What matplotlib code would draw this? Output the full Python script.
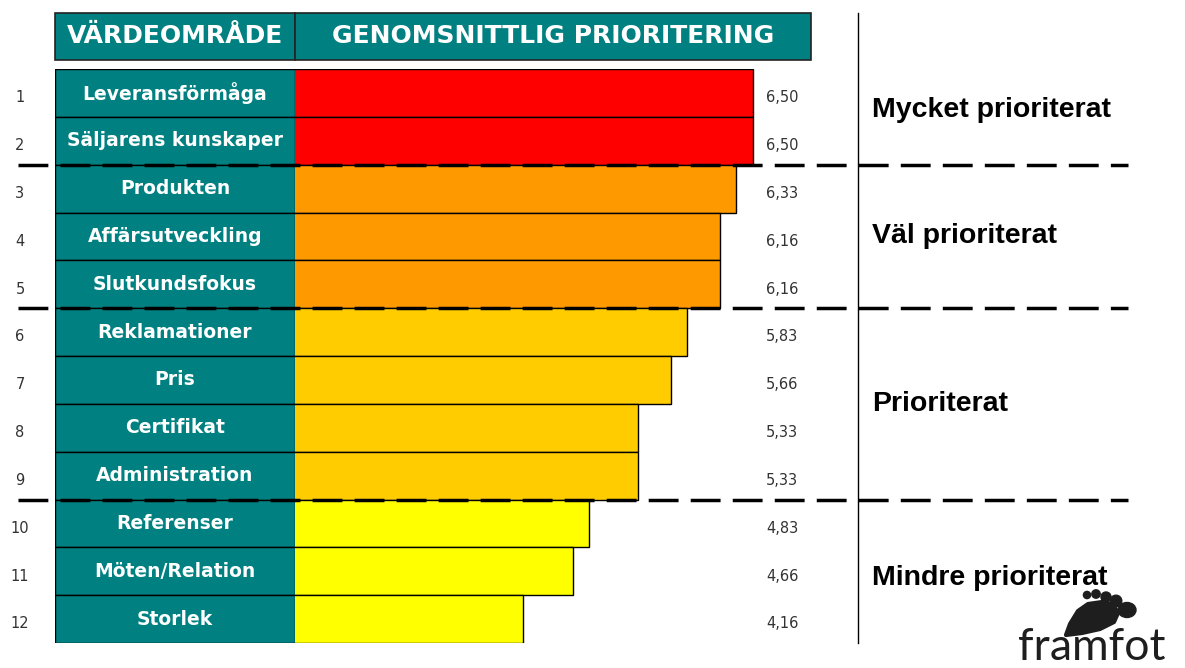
import numpy as np
import matplotlib.pyplot as plt
from matplotlib.patches import Rectangle, Circle, Ellipse, Polygon
from matplotlib.transforms import blended_transform_factory

# data
areas = ["Leveransförmåga", "Säljarens kunskaper", "Produkten", "Affärsutveckling",
         "Slutkundsfokus", "Reklamationer", "Pris", "Certifikat", "Administration",
         "Referenser", "Möten/Relation", "Storlek"]
values = [6.50, 6.50, 6.33, 6.16, 6.16, 5.83, 5.66, 5.33, 5.33, 4.83, 4.66, 4.16]
groups = ["Mycket prioriterat", "Väl prioriterat", "Prioriterat", "Mindre prioriterat"]
group_sizes = [2, 3, 4, 3]
group_colors = ["#FF0000", "#FF9900", "#FFCC00", "#FFFF00"]

TEAL = "#008080"
W, H = 1185, 668


def px_axes(fig, x0, y0, x1, y1):
    # axes placed by pixel box (top-left origin)
    return fig.add_axes([x0 / W, 1 - y1 / H, (x1 - x0) / W, (y1 - y0) / H])


fig = plt.figure(figsize=(W / 100, H / 100), dpi=100)

bg = fig.add_axes([0, 0, 1, 1])
bg.set_xlim(0, W)
bg.set_ylim(H, 0)
bg.axis("off")

rows = np.arange(len(areas))
colors = np.repeat(group_colors, group_sizes)

# label column
lab = px_axes(fig, 55, 69, 295, 643)
lab.barh(rows, 1, left=0, height=1, color=TEAL, edgecolor="black", linewidth=1)
lab.set_xlim(0, 1)
lab.set_ylim(len(areas) - 0.5, -0.5)
lab.axis("off")
for r, name in zip(rows, areas):
    lab.text(0.5, r, name, ha="center", va="center", color="white",
             fontsize=13.5, fontweight="bold", family="DejaVu Sans")

# bars
ax = px_axes(fig, 295, 69, 811, 643)
ax.barh(rows, values, height=1, color=colors, edgecolor="black", linewidth=1)
ax.set_xlim(1.832, 7.09)
ax.set_ylim(len(areas) - 0.5, -0.5)
ax.axis("off")

tr = blended_transform_factory(bg.transData, ax.transData)
for r, v in zip(rows, values):
    ax.text(766, r + 0.1, f"{v:.2f}".replace(".", ","), transform=tr,
            ha="left", va="center", fontsize=10.5, color="#333333")
    ax.text(20, r + 0.1, str(r + 1), transform=tr,
            ha="center", va="center", fontsize=10.5, color="#333333")

# group separators and labels
bounds = np.cumsum(group_sizes)
for b in bounds[:-1]:
    ax.plot([18, 1128], [b - 0.5, b - 0.5], transform=tr, color="black",
            lw=2.5, dashes=(8.6, 3.5), clip_on=False, zorder=5)
starts = np.concatenate([[0], bounds[:-1]])
nudge = [-0.15, 0, 0, 0.15]
for g, s, n, d in zip(groups, starts, group_sizes, nudge):
    ax.text(872, s + (n - 1) / 2 + d, g, transform=tr, ha="left", va="center",
            fontsize=20.5, fontweight="bold", family="Liberation Sans", color="black")

# header
bg.add_patch(Rectangle((55, 13), 240, 47, facecolor=TEAL, edgecolor="#222222", lw=1.2))
bg.add_patch(Rectangle((295, 13), 516, 47, facecolor=TEAL, edgecolor="#222222", lw=1.2))
bg.text(175, 36, "VÄRDEOMRÅDE", ha="center", va="center", color="white",
        fontsize=18, fontweight="bold", family="DejaVu Sans")
bg.text(553, 36, "GENOMSNITTLIG PRIORITERING", ha="center", va="center",
        color="white", fontsize=18, fontweight="bold", family="DejaVu Sans")

# vertical divider
bg.plot([858, 858], [13, 643], color="black", lw=1)

# logo
logo = "#1e1e1e"
bg.add_patch(Polygon([(1066, 635), (1070, 624), (1078, 611), (1088, 604), (1102, 602),
                      (1113, 605), (1118, 613), (1114, 622), (1100, 629), (1082, 633)],
                     closed=True, facecolor=logo, edgecolor=logo, lw=3, joinstyle="round"))
for cx, cy, rr in [(1087, 595, 3.6), (1096, 594, 4.2), (1106, 597, 5.0),
                   (1116, 601, 5.8)]:
    bg.add_patch(Circle((cx, cy), rr, color=logo))
bg.add_patch(Ellipse((1127, 610), 18, 15, color=logo))
bg.text(1018, 668, "framfot", ha="left", va="bottom", fontsize=32,
        family="Lato", color=logo)

fig.savefig("out.png", dpi=100)
